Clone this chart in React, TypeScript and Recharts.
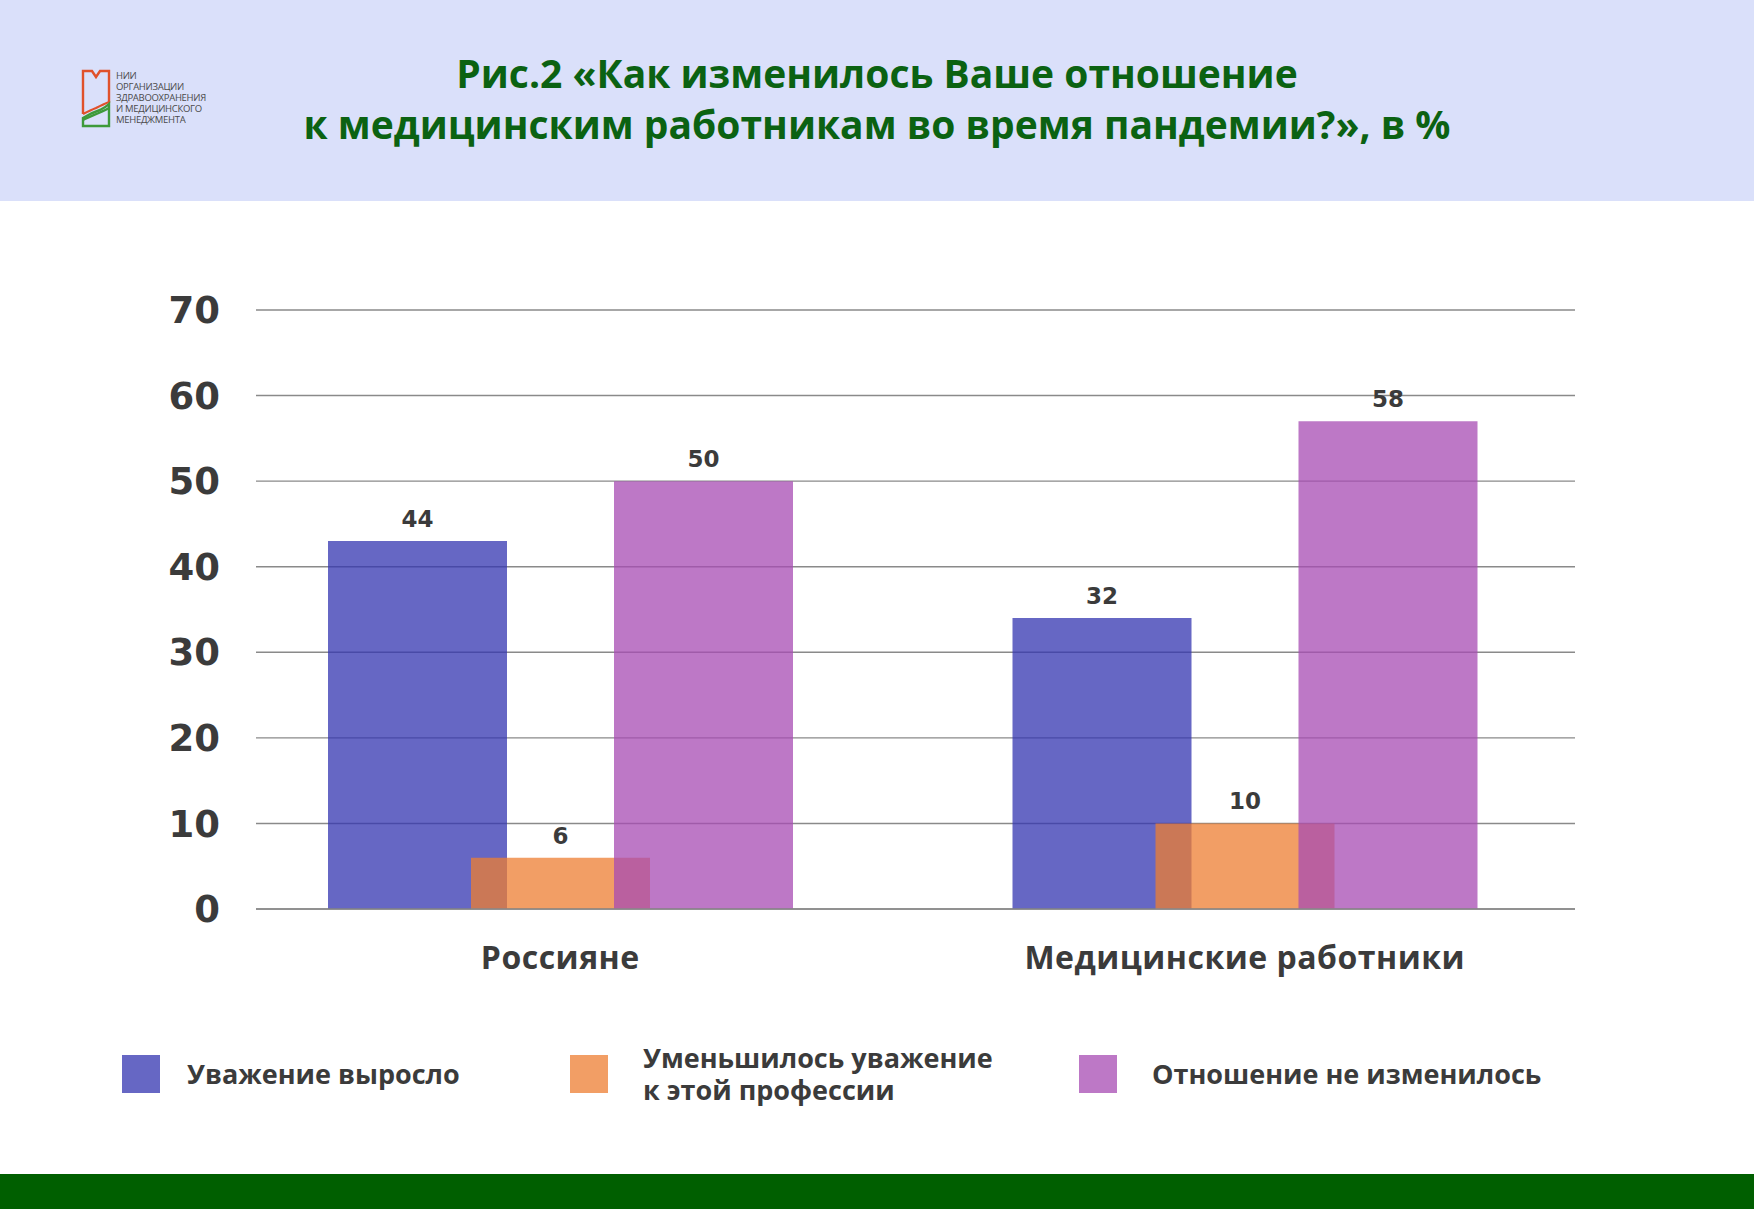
import { BarChart, Bar, XAxis, YAxis, CartesianGrid, Legend, LabelList } from 'recharts';

const categories = ['Россияне', 'Медицинские работники'];
const grewValues = [43, 34];
const grewLabels = [44, 32];
const decreasedValues = [6, 10];
const decreasedLabels = [6, 10];
const unchangedValues = [50, 57];
const unchangedLabels = [50, 58];
const yTicks = [0, 10, 20, 30, 40, 50, 60, 70];

const seriesNames = ['Уважение выросло', 'Уменьшилось уважение\nк этой профессии', 'Отношение не изменилось'];
const COLORS = ['#3334B0', '#ED7D31', '#A74BB3'];

const FONT = '"Open Sans", sans-serif';
const NUM_FONT = '"DejaVu Sans", sans-serif';
const TEXT = '#3b3b3b';

const chartData = categories.map((name, i) => ({
  name,
  grew: grewValues[i],
  grewLabel: grewLabels[i],
  decreased: decreasedValues[i],
  decreasedLabel: decreasedLabels[i],
  unchanged: unchangedValues[i],
  unchangedLabel: unchangedLabels[i],
}));

// legend items sit at fixed spots under the plot
const LEGEND_LEFT = [122, 570, 1079];

const renderLegend = ({ payload }: any) => {
  // keep the series order, not the alphabetical one
  const items = [...(payload || [])].sort(
    (a: any, b: any) => seriesNames.indexOf(a.value) - seriesNames.indexOf(b.value)
  );
  return (
    <div style={{ position: 'relative', width: 1754, height: 80 }}>
      {items.map((entry: any, index: number) => (
        <div
          key={`legend-${index}`}
          style={{ position: 'absolute', left: LEGEND_LEFT[index], top: 0, display: 'flex', alignItems: 'center', height: 76 }}
        >
          <div style={{ width: 38, height: 38, background: entry.color, opacity: 0.75, marginRight: index === 0 ? 27 : 35 }} />
          <div style={{ fontFamily: FONT, fontWeight: 700, fontSize: 27, color: TEXT, lineHeight: '32px', whiteSpace: 'nowrap' }}>
            {String(entry.value).split('\n').map((line, i) => (
              <div key={i}>{line}</div>
            ))}
          </div>
        </div>
      ))}
    </div>
  );
};

const Logo = () => (
  <div style={{ position: 'absolute', left: 80, top: 68, display: 'flex' }}>
    <svg width={32} height={60} viewBox="0 0 32 60">
      <path d="M3 46 V3 H12 L16 9 L20 3 H29 V34 C24 36 20 38 16 40 C11 42 7 44 3 46" fill="none" stroke="#E0512B" strokeWidth={2.4} />
      <path d="M3 58 V50 C9 46 14 44 20 42 C24 40 27 38 29 36 V58 Z" fill="none" stroke="#3E9A3A" strokeWidth={2.4} />
      <path d="M3 52 C10 48 18 46 29 40" fill="none" stroke="#3E9A3A" strokeWidth={2.4} />
    </svg>
    <div style={{ marginLeft: 4, marginTop: 2, fontFamily: FONT, fontSize: 9.5, lineHeight: '11px', letterSpacing: -0.3, color: '#4a4a4a' }}>
      <div>НИИ</div>
      <div>ОРГАНИЗАЦИИ</div>
      <div>ЗДРАВООХРАНЕНИЯ</div>
      <div>И МЕДИЦИНСКОГО</div>
      <div>МЕНЕДЖМЕНТА</div>
    </div>
  </div>
);

const labelStyle = { fontFamily: NUM_FONT, fontWeight: 700, fontSize: 23, fill: TEXT };

export default function App() {
  return (
    <div style={{ position: 'relative', width: 1754, height: 1209, background: '#ffffff', overflow: 'hidden' }}>
      <style>{'body{margin:0}'}</style>
      <div style={{ position: 'absolute', left: 0, top: 0, width: 1754, height: 201, background: '#DAE0FA' }} />
      <div style={{ position: 'absolute', left: 0, top: 1174, width: 1754, height: 35, background: '#005F00' }} />
      <Logo />
      <div
        style={{
          position: 'absolute', left: 0, top: 47, width: 1754, textAlign: 'center',
          fontFamily: FONT, fontWeight: 700, fontSize: 39, lineHeight: '51px', color: '#0B6212',
        }}
      >
        <div>Рис.2 «Как изменилось Ваше отношение</div>
        <div>к медицинским работникам во время пандемии?», в %</div>
      </div>
      <div style={{ position: 'absolute', left: 0, top: 0 }}>
        <BarChart
          width={1754}
          height={1209}
          data={chartData}
          margin={{ top: 310, right: 179, bottom: 240, left: 0 }}
          barGap={-36}
        >
          <CartesianGrid vertical={false} stroke="#8a8a8a" strokeWidth={1.4} />
          <XAxis
            dataKey="name"
            height={60}
            padding={{ left: -38, right: -12 }}
            axisLine={{ stroke: '#8a8a8a', strokeWidth: 1.4 }}
            tickLine={false}
            tickSize={0}
            tickMargin={37}
            tick={{ fontFamily: FONT, fontWeight: 700, fontSize: 32, fill: TEXT, letterSpacing: 0.5 }}
          />
          <YAxis
            width={256}
            domain={[0, 70]}
            ticks={yTicks}
            axisLine={false}
            tickLine={false}
            tickSize={0}
            tickMargin={36}
            tick={{ fontFamily: NUM_FONT, fontWeight: 700, fontSize: 37, fill: TEXT }}
          />
          <Legend
            layout="horizontal"
            verticalAlign="middle"
            align="center"
            wrapperStyle={{ left: 0, top: 1036, width: 1754 }}
            content={renderLegend}
          />
          <Bar dataKey="grew" name={seriesNames[0]} fill={COLORS[0]} fillOpacity={0.75} barSize={179} isAnimationActive={false}>
            <LabelList dataKey="grewLabel" position="top" offset={14} style={labelStyle} />
          </Bar>
          <Bar dataKey="decreased" name={seriesNames[1]} fill={COLORS[1]} fillOpacity={0.75} barSize={179} isAnimationActive={false}>
            <LabelList dataKey="decreasedLabel" position="top" offset={14} style={labelStyle} />
          </Bar>
          <Bar dataKey="unchanged" name={seriesNames[2]} fill={COLORS[2]} fillOpacity={0.75} barSize={179} isAnimationActive={false}>
            <LabelList dataKey="unchangedLabel" position="top" offset={14} style={labelStyle} />
          </Bar>
        </BarChart>
      </div>
    </div>
  );
}
